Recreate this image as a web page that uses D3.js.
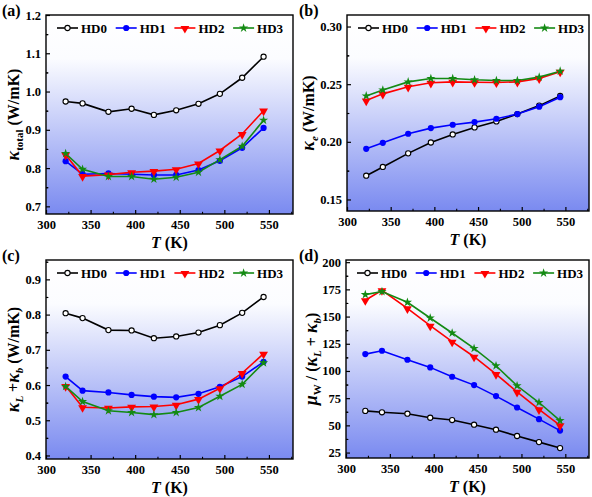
<!DOCTYPE html>
<html><head><meta charset="utf-8">
<script src="https://cdn.jsdelivr.net/npm/d3@7"></script>
<style>
body{margin:0;background:#fff;}
svg text{font-family:"Liberation Serif","Times New Roman",serif;font-weight:bold;fill:#000;}
</style></head>
<body><svg id="c" width="592" height="497"></svg>
<script>
// ---- data ----
const T = [322, 341, 370, 396, 421, 446, 471, 495, 520, 544];
const seriesNames = ["HD0", "HD1", "HD2", "HD3"];
const xTicks = [300, 350, 400, 450, 500, 550];

// (a) kappa_total
const aHD0 = [0.974, 0.969, 0.947, 0.955, 0.939, 0.951, 0.968, 0.994, 1.036, 1.091];
const aHD1 = [0.818, 0.784, 0.786, 0.784, 0.782, 0.782, 0.795, 0.819, 0.853, 0.905];
const aHD2 = [0.835, 0.779, 0.783, 0.789, 0.792, 0.797, 0.812, 0.846, 0.889, 0.950];
const aHD3 = [0.838, 0.797, 0.778, 0.778, 0.771, 0.776, 0.789, 0.822, 0.857, 0.925];
const aTicks = [0.7, 0.8, 0.9, 1.0, 1.1, 1.2];

// (b) kappa_e
const bHD0 = [0.1706, 0.1782, 0.1900, 0.1994, 0.2064, 0.2125, 0.2177, 0.2241, 0.2314, 0.2398];
const bHD1 = [0.1939, 0.1991, 0.2070, 0.2119, 0.2148, 0.2171, 0.2200, 0.2241, 0.2305, 0.2387];
const bHD2 = [0.2358, 0.2416, 0.2477, 0.2512, 0.2520, 0.2517, 0.2515, 0.2520, 0.2550, 0.2608];
const bHD3 = [0.2398, 0.2450, 0.2520, 0.2549, 0.2549, 0.2538, 0.2532, 0.2532, 0.2561, 0.2613];
const bTicks = [0.15, 0.20, 0.25, 0.30];

// (c) kappa_L + kappa_b
const cHD0 = [0.804, 0.790, 0.756, 0.755, 0.733, 0.738, 0.749, 0.770, 0.805, 0.850];
const cHD1 = [0.624, 0.584, 0.579, 0.572, 0.567, 0.565, 0.575, 0.595, 0.624, 0.666];
const cHD2 = [0.597, 0.537, 0.535, 0.538, 0.539, 0.544, 0.560, 0.591, 0.634, 0.689];
const cHD3 = [0.596, 0.553, 0.527, 0.522, 0.516, 0.522, 0.536, 0.568, 0.602, 0.663];
const cTicks = [0.4, 0.5, 0.6, 0.7, 0.8, 0.9];

// (d) mu_W / (kappa_L + kappa_b)
const dHD0 = [63.3, 62.0, 60.7, 57.0, 54.9, 50.6, 46.0, 40.2, 34.6, 29.1];
const dHD1 = [115.5, 118.6, 110.3, 103.3, 94.7, 87.0, 76.9, 66.4, 55.7, 45.2];
const dHD2 = [165.0, 174.2, 157.6, 141.6, 126.9, 113.1, 97.1, 80.8, 64.8, 50.0];
const dHD3 = [170.2, 173.0, 163.1, 148.7, 134.9, 120.7, 104.8, 86.4, 71.0, 54.4];
const dTicks = [25, 50, 75, 100, 125, 150, 175, 200];

// ---- style ----
const colors = ["#000000", "#0000ff", "#ff0000", "#138a13"];
const svg = d3.select("#c");
const defs = svg.append("defs");
const grad = defs.append("linearGradient").attr("id", "bg")
  .attr("x1", 0).attr("y1", 0).attr("x2", 0).attr("y2", 1);
grad.append("stop").attr("offset", "0").attr("stop-color", "#ffffff");
grad.append("stop").attr("offset", "0.22").attr("stop-color", "#fbfcff");
grad.append("stop").attr("offset", "1").attr("stop-color", "#7a8af0");

function drawMarker(g, i, x, y) {
  if (i === 0) {
    g.append("circle").attr("cx", x).attr("cy", y).attr("r", 2.6)
      .attr("fill", "#fff").attr("stroke", colors[0]).attr("stroke-width", 1.1);
  } else if (i === 1) {
    g.append("circle").attr("cx", x).attr("cy", y).attr("r", 3.1).attr("fill", colors[1]);
  } else if (i === 2) {
    g.append("path").attr("d", d3.symbol(d3.symbolTriangle, 34)())
      .attr("transform", `translate(${x},${y + 0.5}) rotate(180)`).attr("fill", colors[2]);
  } else {
    g.append("path").attr("d", d3.symbol(d3.symbolStar, 26)())
      .attr("transform", `translate(${x},${y})`).attr("fill", colors[3]);
  }
}

function panel(cfg) {
  const {L, R, Tp, B, yDomain, yTicks, yMinorStep, fmt, data} = cfg;
  const g = svg.append("g");
  const x = d3.scaleLinear().domain([300, 577]).range([L, R]);
  const y = d3.scaleLinear().domain(yDomain).range([B, Tp]);

  g.append("rect").attr("x", L).attr("y", Tp).attr("width", R - L).attr("height", B - Tp)
    .attr("fill", "url(#bg)");

  // minor ticks
  const xMinor = d3.range(325, 577, 50);
  g.append("g").attr("transform", `translate(0,${B})`)
    .call(d3.axisBottom(x).tickValues(xMinor).tickSize(-2.2).tickFormat(""))
    .call(s => s.select(".domain").remove())
    .call(s => s.selectAll("line").attr("stroke-width", 1.1));
  const yMinor = [];
  for (let v = yTicks[0] - yMinorStep; v <= yDomain[1] + 1e-9; v += 2 * yMinorStep) {
    if (v > yDomain[0]) yMinor.push(+v.toFixed(5));
  }
  for (let v = yTicks[0] + yMinorStep; v <= yDomain[1] + 1e-9; v += 2 * yMinorStep) yMinor.push(+v.toFixed(5));
  g.append("g").attr("transform", `translate(${L},0)`)
    .call(d3.axisLeft(y).tickValues(yMinor).tickSize(-2.2).tickFormat(""))
    .call(s => s.select(".domain").remove())
    .call(s => s.selectAll("line").attr("stroke-width", 1.1));

  // major ticks
  g.append("g").attr("transform", `translate(0,${B})`)
    .call(d3.axisBottom(x).tickValues(xTicks).tickSize(-4).tickPadding(6).tickFormat(d3.format("d")))
    .call(s => s.select(".domain").remove())
    .call(s => s.selectAll("line").attr("stroke-width", 1.2))
    .call(s => s.selectAll("text").attr("font-size", 12.5).attr("font-family", null).attr("fill", "#000"));
  g.append("g").attr("transform", `translate(${L},0)`)
    .call(d3.axisLeft(y).tickValues(yTicks).tickSize(-4).tickPadding(5).tickFormat(d3.format(fmt)))
    .call(s => s.select(".domain").remove())
    .call(s => s.selectAll("line").attr("stroke-width", 1.2))
    .call(s => s.selectAll("text").attr("font-size", 12.5).attr("font-family", null).attr("fill", "#000"));

  // series
  const line = d3.line().x((d, k) => x(T[k])).y(d => y(d));
  data.forEach((arr, i) => {
    g.append("path").attr("d", line(arr)).attr("fill", "none")
      .attr("stroke", colors[i]).attr("stroke-width", 1.6);
  });
  data.forEach((arr, i) => {
    const mg = g.append("g");
    arr.forEach((v, k) => drawMarker(mg, i, x(T[k]), y(v)));
  });

  // frame
  g.append("rect").attr("x", L).attr("y", Tp).attr("width", R - L).attr("height", B - Tp)
    .attr("fill", "none").attr("stroke", "#000").attr("stroke-width", 1.4);

  // legend
  const ly = Tp + 13;
  seriesNames.forEach((name, i) => {
    const sx = L + 11 + i * 58.7;
    g.append("line").attr("x1", sx).attr("x2", sx + 21).attr("y1", ly).attr("y2", ly)
      .attr("stroke", colors[i]).attr("stroke-width", 1.6);
    drawMarker(g, i, sx + 10.5, ly);
    g.append("text").attr("x", sx + 24).attr("y", ly + 4.5).attr("font-size", 13).text(name);
  });

  // x title
  const xt = g.append("text").attr("x", (L + R) / 2).attr("y", B + 34)
    .attr("text-anchor", "middle").attr("font-size", 16);
  xt.append("tspan").attr("font-style", "italic").text("T");
  xt.append("tspan").text(" (K)");

  // panel label
  g.append("text").attr("x", cfg.labX).attr("y", Tp + 1).attr("font-size", 16).text(cfg.label);

  // y title
  const yt = g.append("text").attr("transform", `translate(${cfg.ytX},${(Tp + B) / 2}) rotate(-90)`)
    .attr("text-anchor", "middle").attr("font-size", 16);
  cfg.ytitle(yt);
}

panel({L: 46, R: 293, Tp: 15, B: 214, yDomain: [0.68, 1.2], yTicks: aTicks, yMinorStep: 0.05, fmt: ".1f",
  data: [aHD0, aHD1, aHD2, aHD3], label: "(a)", labX: 2, ytX: 19,
  ytitle: t => {
    t.append("tspan").attr("font-style", "italic").attr("font-size", 18).text("κ");
    t.append("tspan").attr("font-size", 11).attr("dy", 4).text("total");
    t.append("tspan").attr("dy", -4).text(" (W/mK)");
  }});
panel({L: 347, R: 589, Tp: 15, B: 211, yDomain: [0.14, 0.31], yTicks: bTicks, yMinorStep: 0.025, fmt: ".2f",
  data: [bHD0, bHD1, bHD2, bHD3], label: "(b)", labX: 299, ytX: 314,
  ytitle: t => {
    t.append("tspan").attr("font-style", "italic").attr("font-size", 18).text("κ");
    t.append("tspan").attr("font-style", "italic").attr("font-size", 11).attr("dy", 4).text("e");
    t.append("tspan").attr("dy", -4).text(" (W/mK)");
  }});
panel({L: 46, R: 293, Tp: 260, B: 459, yDomain: [0.39, 0.955], yTicks: cTicks, yMinorStep: 0.05, fmt: ".1f",
  data: [cHD0, cHD1, cHD2, cHD3], label: "(c)", labX: 2, ytX: 19,
  ytitle: t => {
    t.append("tspan").attr("font-style", "italic").attr("font-size", 18).text("κ");
    t.append("tspan").attr("font-style", "italic").attr("font-size", 11).attr("dy", 4).text("L");
    t.append("tspan").attr("dy", -4).text(" +");
    t.append("tspan").attr("font-style", "italic").attr("font-size", 18).text("κ");
    t.append("tspan").attr("font-style", "italic").attr("font-size", 11).attr("dy", 4).text("b");
    t.append("tspan").attr("dy", -4).text(" (W/mK)");
  }});
panel({L: 346, R: 589, Tp: 260, B: 458, yDomain: [20, 202], yTicks: dTicks, yMinorStep: 12.5, fmt: "d",
  data: [dHD0, dHD1, dHD2, dHD3], label: "(d)", labX: 299, ytX: 317,
  ytitle: t => {
    t.append("tspan").attr("font-style", "italic").attr("font-size", 18).text("μ");
    t.append("tspan").attr("font-size", 11).attr("dy", 4).text("W");
    t.append("tspan").attr("dy", -4).text(" / (");
    t.append("tspan").attr("font-style", "italic").attr("font-size", 18).text("κ");
    t.append("tspan").attr("font-style", "italic").attr("font-size", 11).attr("dy", 4).text("L");
    t.append("tspan").attr("dy", -4).text(" + ");
    t.append("tspan").attr("font-style", "italic").attr("font-size", 18).text("κ");
    t.append("tspan").attr("font-style", "italic").attr("font-size", 11).attr("dy", 4).text("b");
    t.append("tspan").attr("dy", -4).text(")");
  }});
</script></body></html>
